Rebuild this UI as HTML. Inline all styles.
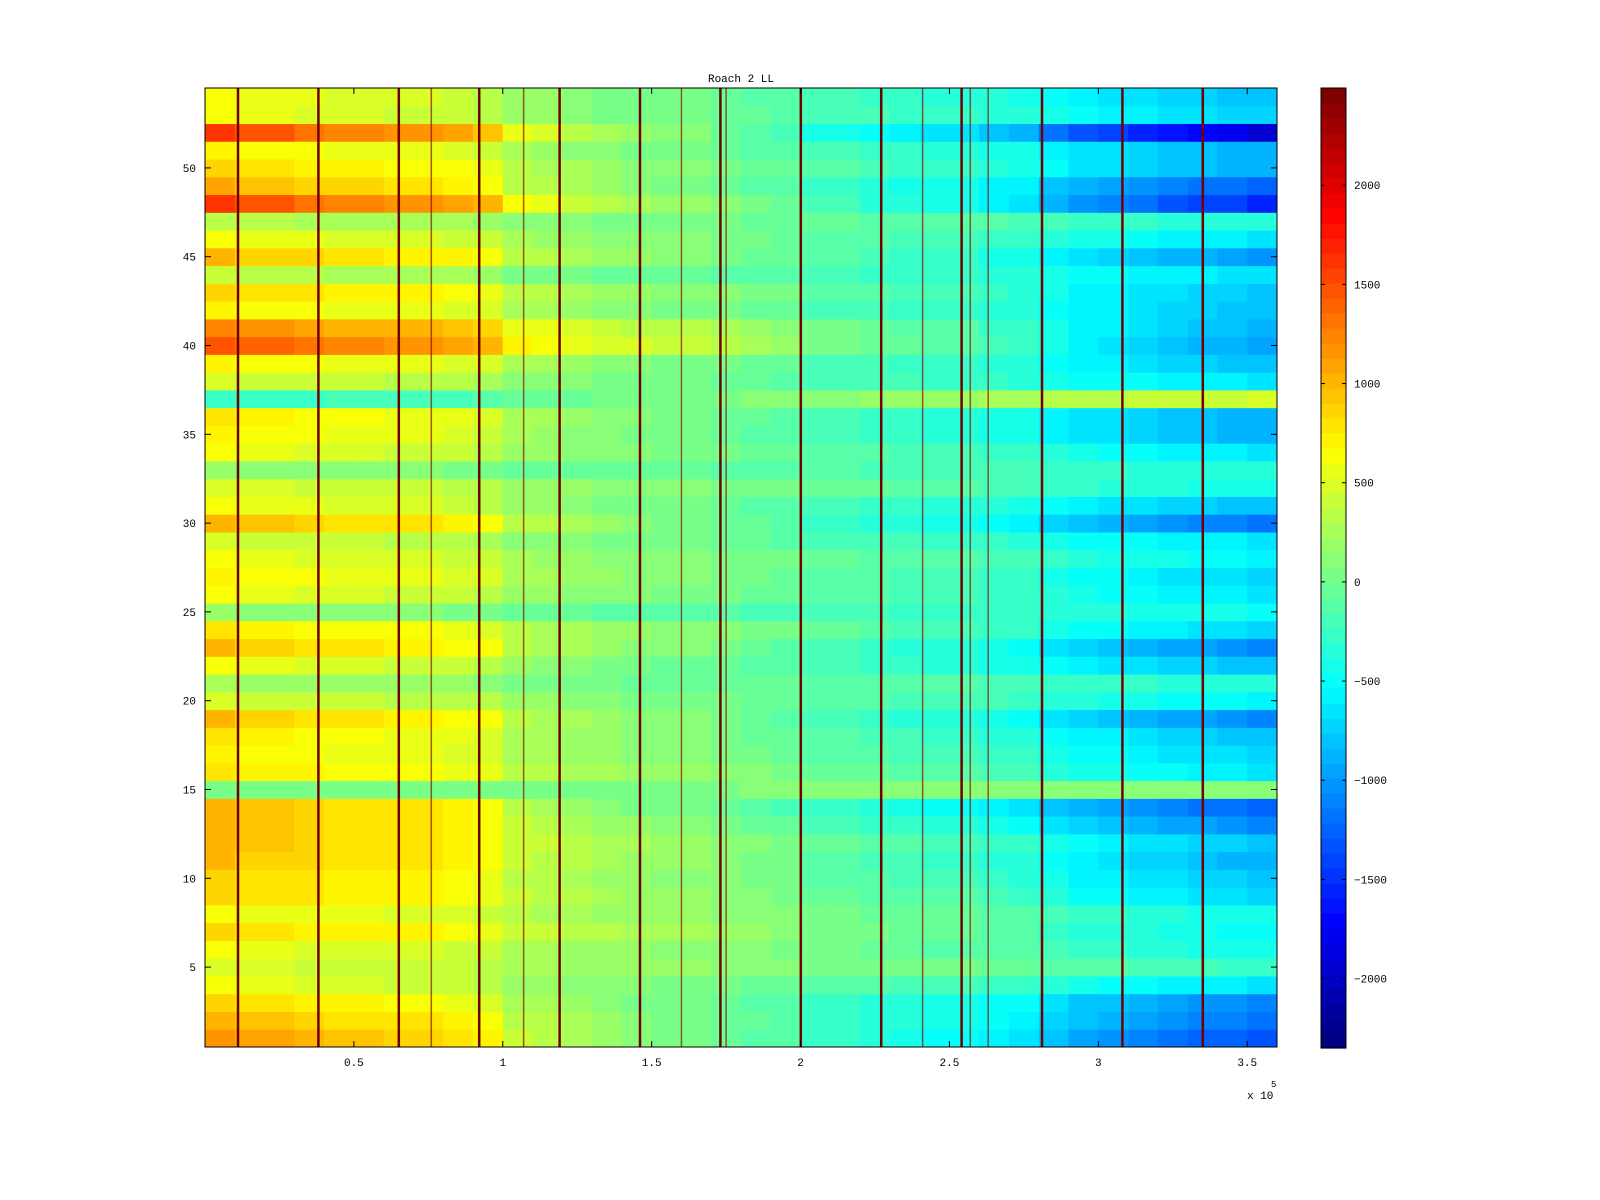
<!DOCTYPE html>
<html><head><meta charset="utf-8"><style>
body{margin:0;background:#fff;}
svg{display:block;font-family:"Liberation Mono","DejaVu Sans Mono",monospace;}
</style></head><body>
<svg id="chart" width="1600" height="1200" viewBox="0 0 1600 1200" xmlns="http://www.w3.org/2000/svg">
<rect width="1600" height="1200" fill="#fff"/>
<text x="741" y="82" font-size="11" text-anchor="middle">Roach 2 LL</text>
<g id="cells"></g>
<g id="lines"></g>
<rect x="205" y="88" width="1072" height="959" fill="none" stroke="#000" stroke-width="1"/>
<g id="axes"></g>
<g id="cbar"></g>
<text x="1247" y="1099" font-size="11">x 10</text>
<text x="1271" y="1087" font-size="9">5</text>
</svg>
<script>
const rowLeft=[1200,1050,900,600,500,600,850,650,900,900,1000,1000,1050,1050,0,800,750,800,1000,500,250,600,1000,800,150,600,750,600,500,1050,650,500,150,600,750,800,-300,500,750,1500,1250,750,900,400,1000,650,350,1600,1100,900,750,1650,600,650];
const rowRight=[-1500,-1300,-1200,-700,-300,-500,-600,-500,-800,-900,-1000,-900,-1200,-1400,150,-700,-800,-900,-1200,-600,-400,-900,-1200,-800,-500,-700,-800,-600,-700,-1300,-900,-500,-400,-700,-1000,-1000,500,-700,-900,-1100,-1000,-900,-900,-700,-1100,-700,-400,-1700,-1400,-1000,-1000,-2100,-800,-900];
const colMix=[0.0,0.05,0.05,0.08,0.1,0.1,0.12,0.12,0.15,0.18,0.3,0.32,0.35,0.38,0.4,0.42,0.42,0.45,0.48,0.5,0.55,0.55,0.58,0.6,0.62,0.62,0.66,0.68,0.75,0.8,0.82,0.85,0.88,0.9,0.92,0.95];
const stripeX=[11000,38000,65000,92000,119000,146000,173000,200000,227000,254000,281000,308000,335000];
const thinStripeX=[76000,107000,160000,175000,241000,257000,263000];
const xTicks=[0.5,1,1.5,2,2.5,3,3.5];
const yTicks=[5,10,15,20,25,30,35,40,45,50];
const cTicks=[-2000,-1500,-1000,-500,0,500,1000,1500,2000];
const NS="http://www.w3.org/2000/svg";
const X0=205,X1=1277,Y0=88,Y1=1047,XMAX=360000,YMIN=0.5,YMAX=54.5,CMIN=-2350,CMAX=2490;
const xs=v=>X0+(v/XMAX)*(X1-X0);
const ys=v=>Y1-(v-YMIN)/(YMAX-YMIN)*(Y1-Y0);
function jet(t){t=Math.max(0,Math.min(1,t));t=Math.floor(t*63.999)/63;
 const f=x=>Math.max(0,Math.min(1,1.5-Math.abs(4*t-x)));
 return `rgb(${Math.round(255*f(3))},${Math.round(255*f(2))},${Math.round(255*f(1))})`;}
const cv=v=>jet((v-CMIN)/(CMAX-CMIN));
function mk(tag,attrs,parent){const e=document.createElementNS(NS,tag);for(const k in attrs)e.setAttribute(k,attrs[k]);parent.appendChild(e);return e;}
const cells=document.getElementById('cells');
const bw=XMAX/colMix.length;
for(let r=0;r<rowLeft.length;r++){for(let c=0;c<colMix.length;c++){
 const m=colMix[c];const v=rowLeft[r]*(1-m)+rowRight[r]*m;
 const x=xs(c*bw),y=ys(r+1.5);
 const e=mk('rect',{x:x,y:y,width:xs((c+1)*bw)-x+0.5,height:ys(r+0.5)-y+0.5,fill:cv(v)},cells);
 
 
}}
const lines=document.getElementById('lines');
stripeX.forEach(v=>{const e=mk('rect',{x:xs(v)-1,y:Y0,width:2.5,height:Y1-Y0,fill:'#700000'},lines);
 
 });
thinStripeX.forEach(v=>{const e=mk('rect',{x:xs(v)-0.75,y:Y0,width:1.5,height:Y1-Y0,fill:'#8a1000',opacity:0.7},lines);
 
 });
const axes=document.getElementById('axes');
xTicks.forEach(v=>{const x=xs(v*1e5);
 mk('line',{x1:x,x2:x,y1:Y1,y2:Y1-6,stroke:'#000'},axes);
 mk('line',{x1:x,x2:x,y1:Y0,y2:Y0+6,stroke:'#000'},axes);
 const t=mk('text',{x:x,y:1066,'font-size':11,'text-anchor':'middle'},axes);t.textContent=String(v);
 
 });
yTicks.forEach(v=>{const y=ys(v);
 mk('line',{x1:X0,x2:X0+6,y1:y,y2:y,stroke:'#000'},axes);
 mk('line',{x1:X1,x2:X1-6,y1:y,y2:y,stroke:'#000'},axes);
 const t=mk('text',{x:196,y:y+4,'font-size':11,'text-anchor':'end'},axes);t.textContent=String(v);
 
 });
const cb=document.getElementById('cbar');const CX=1321,CW=25,CY0=88,CY1=1048;
for(let i=0;i<64;i++){const y=CY1-(i+1)*(CY1-CY0)/64;
 const e=mk('rect',{x:CX,y:y,width:CW,height:(CY1-CY0)/64+0.6,fill:jet(i/63)},cb);
 
 }
mk('rect',{x:CX,y:CY0,width:CW,height:CY1-CY0,fill:'none',stroke:'#000'},cb);
cTicks.forEach(v=>{const y=CY1-(v-CMIN)/(CMAX-CMIN)*(CY1-CY0);
 mk('line',{x1:CX,x2:CX+4,y1:y,y2:y,stroke:'#000'},cb);
 mk('line',{x1:CX+CW,x2:CX+CW-4,y1:y,y2:y,stroke:'#000'},cb);
 const t=mk('text',{x:1354,y:y+4,'font-size':11},cb);t.textContent=v<0?'\u2212'+(-v):String(v);
 
 });
</script>
</body></html>
